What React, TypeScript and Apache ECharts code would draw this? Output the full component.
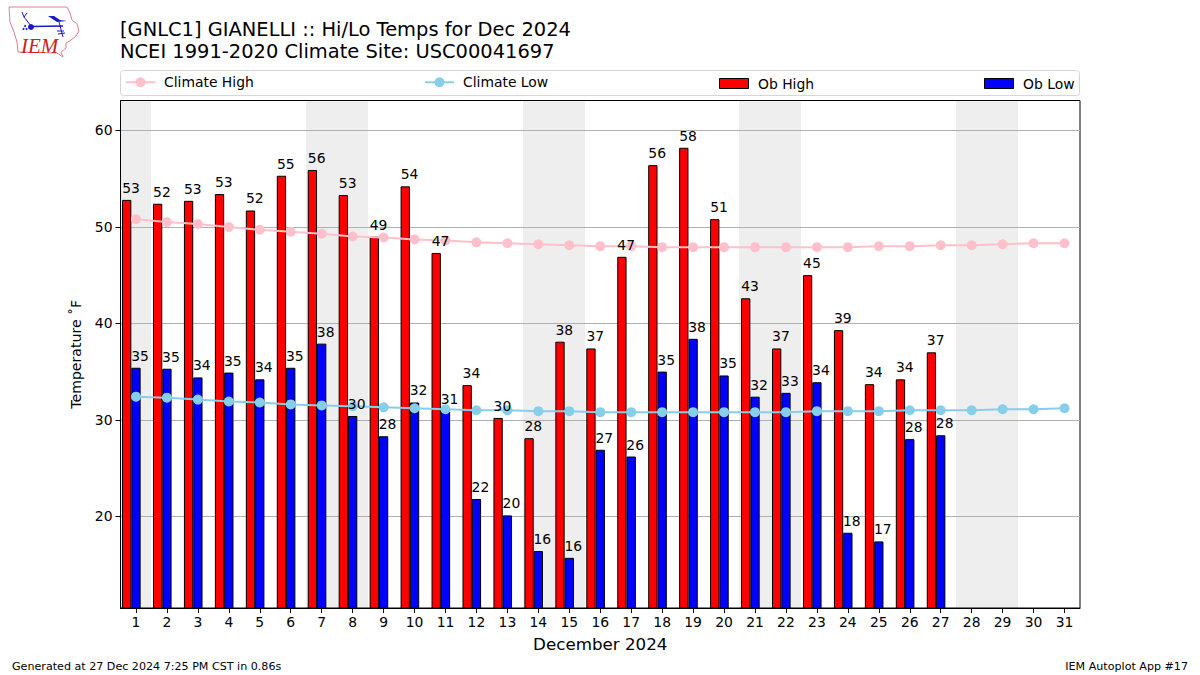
import React, { useEffect, useRef } from "react";
import * as echarts from "echarts";

const days = Array.from({ length: 31 }, (_, i) => String(i + 1));
const obHigh: (number | null)[] = [52.8, 52.4, 52.7, 53.4, 51.7, 55.3, 55.9, 53.3, 49, 54.2, 47.3, 33.6, 30.2, 28.1, 38.1, 37.4, 46.9, 56.4, 58.2, 50.8, 42.6, 37.4, 45, 39.3, 33.7, 34.2, 37, null, null, null, null];
const obLow: (number | null)[] = [35.4, 35.3, 34.4, 34.9, 34.2, 35.4, 37.9, 30.4, 28.3, 31.8, 30.9, 21.8, 20.1, 16.4, 15.7, 26.9, 26.2, 35, 38.4, 34.6, 32.4, 32.8, 33.9, 18.3, 17.4, 28, 28.4, null, null, null, null];
const climateHigh = [50.8, 50.5, 50.3, 50, 49.7, 49.5, 49.3, 49, 48.9, 48.7, 48.6, 48.4, 48.3, 48.2, 48.1, 48, 48, 47.9, 47.9, 47.9, 47.9, 47.9, 47.9, 47.9, 48, 48, 48.1, 48.1, 48.2, 48.3, 48.3];
const climateLow = [32.4, 32.3, 32.1, 31.9, 31.8, 31.6, 31.5, 31.4, 31.3, 31.2, 31.1, 31, 31, 30.9, 30.9, 30.8, 30.8, 30.8, 30.8, 30.8, 30.8, 30.8, 30.9, 30.9, 30.9, 31, 31, 31, 31.1, 31.1, 31.2];
const weekendDays = ["1", "7", "8", "14", "15", "21", "22", "28", "29"];
const yTicks = [20, 30, 40, 50, 60];
const yMin = 10.5;
const yMax = 63.1;
const font = "DejaVu Sans";

const iowa = [[9, 7], [67, 7], [70, 13], [72, 20], [77, 24], [79, 31], [76, 36], [71, 40], [66, 43], [66, 48], [61, 52], [63, 57], [57, 53], [18, 52], [17, 42], [14, 32], [10, 22]];
const logoBlue = "#1818cc";

function labelSeries(name: string, values: (number | null)[], dx: number) {
  return {
    type: "scatter",
    name,
    data: values,
    z: 6,
    silent: true,
    symbolSize: 0,
    itemStyle: { color: "transparent", opacity: 1 },
    label: {
      show: true,
      position: "top" as const,
      distance: 5,
      offset: [dx, 0],
      fontFamily: font,
      fontSize: 13.9,
      color: "#000",
      formatter: (p: any) => String(Math.round(p.value)),
    },
  };
}

function lineLegend(name: string, left: number) {
  return {
    data: [name],
    left,
    top: 75.25,
    padding: 0,
    itemWidth: 29,
    itemHeight: 12.5,
    selectedMode: false,
    textStyle: { fontFamily: font, fontSize: 13.9, color: "#000", padding: [0, 0, 0, 4] },
  };
}

function barLegend(name: string, left: number) {
  return {
    data: [{ name, icon: "rect" }],
    left,
    top: 76.5,
    padding: 0,
    itemWidth: 29,
    itemHeight: 10,
    selectedMode: false,
    itemStyle: { borderWidth: 1, borderColor: "#000" },
    textStyle: { fontFamily: font, fontSize: 13.9, color: "#000", padding: [0, 0, 3, 4.5] },
  };
}

export default function App() {
  const ref = useRef<HTMLDivElement>(null);
  useEffect(() => {
    const chart = echarts.init(ref.current!, null, { renderer: "svg" });
    chart.setOption({
      animation: false,
      backgroundColor: "#fff",
      title: {
        text: "[GNLC1] GIANELLI :: Hi/Lo Temps for Dec 2024\nNCEI 1991-2020 Climate Site: USC00041697",
        left: 120,
        top: 18,
        padding: 0,
        textStyle: { fontFamily: font, fontSize: 19.45, fontWeight: "normal", color: "#000", lineHeight: 22 },
      },
      legend: [lineLegend("Climate High", 125), lineLegend("Climate Low", 424), barLegend("Ob High", 719), barLegend("Ob Low", 984)],
      grid: { left: 120.5, top: 100.5, width: 959.5, height: 507.5, show: true, borderColor: "#000", borderWidth: 1, backgroundColor: "transparent" },
      xAxis: {
        type: "category",
        data: days,
        name: "December 2024",
        nameLocation: "middle",
        nameGap: 27,
        nameTextStyle: { fontFamily: font, fontSize: 16.7, color: "#000" },
        axisLine: { show: true, lineStyle: { color: "#000", width: 1 } },
        axisTick: { show: true, alignWithLabel: true, length: 5, lineStyle: { color: "#000" } },
        axisLabel: { fontFamily: font, fontSize: 13.9, color: "#000", margin: 7, interval: 0 },
        splitLine: { show: false },
      },
      yAxis: {
        type: "value",
        min: yMin,
        max: yMax,
        name: "Temperature ˚F",
        nameLocation: "middle",
        nameGap: 38,
        nameTextStyle: { fontFamily: font, fontSize: 14.1, color: "#000" },
        axisLine: { show: true, lineStyle: { color: "#000", width: 1 } },
        axisTick: { show: true, length: 5, lineStyle: { color: "#000" }, customValues: yTicks },
        axisLabel: { fontFamily: font, fontSize: 13.9, color: "#000", margin: 8, customValues: yTicks },
        splitLine: { show: true, lineStyle: { color: "#b0b0b0", width: 1 } },
      },
      series: [
        {
          type: "custom",
          name: "Weekend",
          z: -1,
          silent: true,
          data: weekendDays.map((d) => [d]),
          encode: { x: 0 },
          renderItem: (_: any, api: any) => {
            const c = api.coord([api.value(0), yMax]);
            const b = api.coord([api.value(0), yMin]);
            const w = api.size([1, 0])[0];
            const l = Math.round(c[0] - w / 2 - 0.1);
            const r = Math.round(c[0] + w / 2 - 0.1);
            return {
              type: "rect",
              shape: { x: l, y: c[1], width: r - l, height: b[1] - c[1] },
              style: { fill: "#eeeeee" },
              z2: -1,
            };
          },
        },
        {
          type: "bar",
          name: "Ob High",
          data: obHigh,
          barWidth: 9.3,
          barGap: 0,
          itemStyle: { color: "#ff0000", borderColor: "#000", borderWidth: 1 },
        },
        {
          type: "bar",
          name: "Ob Low",
          data: obLow,
          barWidth: 9.3,
          barGap: 0,
          itemStyle: { color: "#0000ff", borderColor: "#000", borderWidth: 1 },
        },
        { type: "bar", name: "spacer", data: [], barWidth: 9.3, barGap: 0 },
        {
          type: "line",
          name: "Climate High",
          data: climateHigh,
          z: 4,
          symbol: "circle",
          symbolSize: 10,
          itemStyle: { color: "#ffc0cb" },
          lineStyle: { color: "#ffc0cb", width: 2 },
        },
        {
          type: "line",
          name: "Climate Low",
          data: climateLow,
          z: 4,
          symbol: "circle",
          symbolSize: 10,
          itemStyle: { color: "#87ceeb" },
          lineStyle: { color: "#87ceeb", width: 2 },
        },
        labelSeries("Ob High labels", obHigh, -5),
        labelSeries("Ob Low labels", obLow, 4),
      ],
      graphic: [
        {
          type: "rect",
          shape: { x: 120.5, y: 70.5, width: 959, height: 25, r: 3 },
          style: { fill: "none", stroke: "#d6d6d6", lineWidth: 1 },
          silent: true,
        },
        { type: "text", x: 12, y: 661, style: { text: "Generated at 27 Dec 2024 7:25 PM CST in 0.86s", fontFamily: font, fontSize: 11.12, fill: "#000" } },
        { type: "text", x: 1188, y: 661, style: { text: "IEM Autoplot App #17", fontFamily: font, fontSize: 11.12, fill: "#000", textAlign: "right" } },
        { type: "polygon", shape: { points: iowa }, style: { fill: "#fff", stroke: "#e08088", lineWidth: 1 } },
        { type: "text", x: 21, y: 35, style: { text: "IEM", fontFamily: "Liberation Serif", fontStyle: "italic", fontSize: 21, fill: "#cc2222" } },
        { type: "line", shape: { x1: 31, y1: 26.5, x2: 63, y2: 26 }, style: { stroke: logoBlue, lineWidth: 1.5 } },
        { type: "circle", shape: { cx: 31, cy: 27, r: 3 }, style: { fill: logoBlue } },
        { type: "polyline", shape: { points: [[31, 26], [24, 17], [22, 12]] }, style: { stroke: logoBlue, lineWidth: 1, fill: "none" } },
        { type: "line", shape: { x1: 24, y1: 17, x2: 27, y2: 13 }, style: { stroke: logoBlue, lineWidth: 1 } },
        { type: "polygon", shape: { points: [[48, 16], [54, 16], [60, 20], [67, 21], [57, 22]] }, style: { fill: logoBlue } },
        { type: "line", shape: { x1: 59, y1: 22, x2: 63, y2: 37 }, style: { stroke: logoBlue, lineWidth: 1 } },
        { type: "line", shape: { x1: 57, y1: 31, x2: 64, y2: 31 }, style: { stroke: logoBlue, lineWidth: 1 } },
        { type: "line", shape: { x1: 58, y1: 34, x2: 65, y2: 33 }, style: { stroke: logoBlue, lineWidth: 1 } },
        { type: "circle", shape: { cx: 25, cy: 26, r: 1 }, style: { fill: logoBlue } },
        { type: "circle", shape: { cx: 23.5, cy: 29, r: 1 }, style: { fill: logoBlue } },
        { type: "circle", shape: { cx: 26.5, cy: 29, r: 1 }, style: { fill: logoBlue } },
      ],
    });
    return () => chart.dispose();
  }, []);
  return <div ref={ref} style={{ position: "fixed", left: 0, top: 0, width: 1200, height: 675 }} />;
}
